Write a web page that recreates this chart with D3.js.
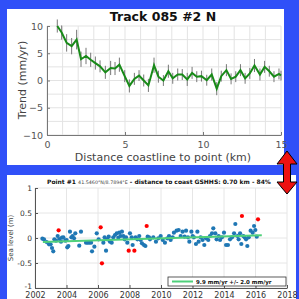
<!DOCTYPE html>
<html><head><meta charset="utf-8">
<script src="https://cdn.jsdelivr.net/npm/d3@7"></script>
<style>body{margin:0;padding:0;background:#fff}svg{display:block}text{font-family:"DejaVu Sans",sans-serif}</style>
</head><body>
<script>
// ---- Top chart data (trend vs distance) ----
const trendKm = [0.66,0.94,1.26,1.58,1.9,2.18,2.5,2.8,3.1,3.4,3.74,4.08,4.36,4.64,4.98,5.28,5.6,5.9,6.2,6.5,6.86,7.14,7.46,7.78,8.06,8.38,8.67,8.99,9.3,9.6,9.9,10.24,10.56,10.88,11.17,11.5,11.8,12.1,12.4,12.7,13.0,13.3,13.65,13.95,14.25,14.55,14.87,15.0];
const trendVal = [10.0,8.8,6.9,6.3,7.5,3.9,4.5,3.8,3.2,2.6,1.5,2.3,2.2,2.9,0.8,-1.0,0.3,0.9,0.0,-0.9,2.8,0.7,0.0,1.7,0.4,1.1,1.1,0.2,1.4,0.7,0.8,0.05,1.1,-1.5,0.8,1.9,0.3,0.7,1.9,0.4,1.3,2.75,1.1,2.5,1.7,0.7,1.2,0.9];
const trendErr = [1.2,1.3,1.6,1.5,1.8,1.4,1.5,1.3,1.2,1.1,1.2,1.3,1.2,1.3,1.1,1.2,1.1,1.0,1.1,1.2,1.4,1.1,1.0,1.2,1.0,1.1,1.0,1.2,1.1,1.0,1.0,1.0,1.1,1.2,1.0,1.1,1.0,1.0,1.1,1.0,1.0,1.2,1.1,1.1,1.0,1.0,1.0,0.9];
const topTitle = "Track 085 #2 N";
const topXTicks = [0,5,10,15];
const topYTicks = [10,5,0,-5,-10];
const topXLabel = "Distance coastline to point (km)";
const topYLabel = "Trend (mm/yr)";

// ---- Bottom chart data (sea level time series) ----
const slYears = [2002.47,2002.57,2002.74,2002.89,2002.99,2003.08,2003.16,2003.23,2003.33,2003.44,2003.54,2003.65,2003.71,2003.80,2003.93,2004.01,2004.05,2004.12,2004.22,2004.31,2004.39,2004.48,2004.56,2004.81,2004.92,2005.24,2005.34,2005.45,2005.56,2005.62,2005.77,2005.92,2006.04,2006.34,2006.42,2006.51,2006.59,2006.68,2006.76,2006.87,2006.97,2007.08,2007.19,2007.29,2007.35,2007.44,2007.52,2007.61,2007.69,2007.78,2007.86,2008.03,2008.14,2008.20,2008.39,2008.50,2008.62,2008.71,2008.79,2008.92,2009.01,2009.15,2009.24,2009.30,2009.51,2009.68,2009.83,2009.98,2010.11,2010.25,2010.40,2010.51,2010.61,2010.74,2010.82,2010.99,2011.12,2011.25,2011.37,2011.50,2011.59,2011.71,2011.80,2011.93,2012.01,2012.09,2012.22,2012.31,2012.39,2012.52,2012.64,2012.75,2012.86,2013.00,2013.11,2013.24,2013.32,2013.45,2013.53,2013.66,2013.75,2013.87,2014.00,2014.13,2014.25,2014.38,2014.51,2014.64,2014.72,2014.85,2014.93,2015.02,2015.10,2015.23,2015.31,2015.40,2015.48,2015.57,2015.69,2015.82,2015.91,2015.99,2016.08];
const slValues = [-0.013,-0.027,-0.08,-0.127,-0.127,-0.2,-0.267,-0.027,-0.053,0.04,-0.02,-0.073,0.007,0.013,-0.053,-0.04,-0.187,-0.16,0.127,0.013,0.04,-0.007,0.093,-0.153,0.127,-0.093,-0.093,-0.093,-0.093,-0.267,-0.173,0.093,-0.027,-0.093,0.013,-0.253,-0.027,0.027,-0.073,-0.093,0.013,0.06,0.093,0.007,0.107,0.04,0.127,0.04,-0.027,0.013,-0.093,0.093,0.013,-0.14,0.013,-0.027,0.04,-0.04,-0.107,-0.14,-0.16,0.027,0.013,-0.027,0.013,-0.073,-0.007,0.04,-0.04,-0.093,-0.007,0.04,-0.04,0.013,0.107,0.147,0.16,0.04,0.127,0.027,0.147,0.013,-0.073,0.127,0.04,0.013,-0.12,0.127,-0.073,0.013,-0.04,-0.14,-0.007,-0.04,0.04,0.093,0.193,0.093,-0.027,0.04,-0.04,0.013,0.107,-0.14,-0.14,-0.027,0.013,0.093,0.28,0.04,-0.027,0.093,-0.12,0.04,0.013,-0.027,-0.16,0.013,0.147,0.107,0.24,0.16,0.027];
const outYears = [2003.50,2006.17,2006.25,2007.95,2008.31,2009.09,2015.14,2016.16];
const outValues = [0.153,0.213,-0.507,-0.253,-0.253,0.24,0.44,0.373];
const fitYears = [2002.5,2016.4];
const fitValues = [-0.08,0.055];
const botXTicks = [2002,2004,2006,2008,2010,2012,2014,2016,2018];
const botYTicks = [1,0.5,0,-0.5,-1];
const botYTickLabels = ["1","0.5","0","-0.5","-1"];
const legendLabel = "9.9 mm/yr +/- 2.0 mm/yr";
const botYLabel = "Sea level (m)";

const W = 299, H = 299;
const blue = "#3050f8";
const svg = d3.select("body").append("svg").attr("width", W).attr("height", H);
svg.append("rect").attr("width", W).attr("height", H).attr("fill", blue);
svg.append("rect").attr("x", 7).attr("y", 9).attr("width", 277).attr("height", 156).attr("fill", "#fff");
svg.append("rect").attr("x", 7).attr("y", 175).attr("width", 289).attr("height", 124).attr("fill", "#fff");

// ===== Top chart =====
const tx = d3.scaleLinear().domain([0,15]).range([47,281]);
const ty = d3.scaleLinear().domain([-10,10]).range([135,26]);
const tg = svg.append("g");
tg.append("g").selectAll("line").data(d3.range(0,16,1)).join("line")
  .attr("x1", d=>tx(d)).attr("x2", d=>tx(d)).attr("y1", ty(-10)).attr("y2", ty(10))
  .attr("stroke", "#e3e3e3").attr("stroke-width", 1);
tg.append("g").selectAll("line").data(d3.range(-10,10.1,2.5)).join("line")
  .attr("x1", tx(0)).attr("x2", tx(15)).attr("y1", d=>ty(d)).attr("y2", d=>ty(d))
  .attr("stroke", "#e3e3e3").attr("stroke-width", 1);
const txAxis = tg.append("g").attr("transform", `translate(0,${ty(-10)})`)
  .call(d3.axisBottom(tx).tickValues(topXTicks).tickSizeInner(-3).tickSizeOuter(0).tickPadding(6));
const tyAxis = tg.append("g").attr("transform", `translate(${tx(0)},0)`)
  .call(d3.axisLeft(ty).tickValues(topYTicks).tickSizeInner(-3).tickSizeOuter(0).tickPadding(4));
[txAxis, tyAxis].forEach(a => {
  a.select(".domain").attr("stroke", "#777");
  a.selectAll(".tick line").attr("stroke", "#777");
  a.selectAll(".tick text").attr("fill", "#555").attr("font-size", 9.5).attr("font-family", "DejaVu Sans");
});
// error bars
tg.append("g").selectAll("line").data(trendKm).join("line")
  .attr("x1", (d)=>tx(d)).attr("x2", (d)=>tx(d))
  .attr("y1", (d,i)=>ty(trendVal[i]-trendErr[i])).attr("y2", (d,i)=>ty(trendVal[i]+trendErr[i]))
  .attr("stroke", "#777").attr("stroke-width", 1);
tg.append("path").datum(trendKm)
  .attr("d", d3.line().x(d=>tx(d)).y((d,i)=>ty(trendVal[i])))
  .attr("fill", "none").attr("stroke", "#188a18").attr("stroke-width", 2);
svg.append("text").attr("x", 163).attr("y", 21).attr("text-anchor", "middle")
  .attr("font-size", 12.5).attr("font-weight", "bold").attr("fill", "#111").text(topTitle);
svg.append("text").attr("x", 163).attr("y", 161).attr("text-anchor", "middle")
  .attr("font-size", 11).attr("fill", "#444").text(topXLabel);
svg.append("text").attr("transform", "translate(26,80) rotate(-90)").attr("text-anchor", "middle")
  .attr("font-size", 11).attr("fill", "#444").text(topYLabel);

// ===== Bottom chart =====
const bx = d3.scaleLinear().domain([2002,2018]).range([35,287]);
const by = d3.scaleLinear().domain([-1,1]).range([288,188]);
const bg = svg.append("g");
bg.append("g").selectAll("line").data(botXTicks).join("line")
  .attr("x1", d=>bx(d)).attr("x2", d=>bx(d)).attr("y1", by(-1)).attr("y2", by(1))
  .attr("stroke", "#e6e6e6");
bg.append("g").selectAll("line").data(botYTicks).join("line")
  .attr("x1", bx(2002)).attr("x2", bx(2018)).attr("y1", d=>by(d)).attr("y2", d=>by(d))
  .attr("stroke", "#e6e6e6");
const bxAxis = bg.append("g").attr("transform", `translate(0,${by(-1)})`)
  .call(d3.axisBottom(bx).tickValues(botXTicks).tickFormat(d3.format("d")).tickSizeInner(-3).tickSizeOuter(0).tickPadding(4));
const byAxis = bg.append("g").attr("transform", `translate(${bx(2002)},0)`)
  .call(d3.axisLeft(by).tickValues(botYTicks).tickFormat((d,i)=>botYTickLabels[i]).tickSizeInner(-3).tickSizeOuter(0).tickPadding(3));
[bxAxis, byAxis].forEach(a => {
  a.select(".domain").attr("stroke", "#555");
  a.selectAll(".tick line").attr("stroke", "#555");
  a.selectAll(".tick text").attr("fill", "#333").attr("font-family", "DejaVu Sans");
});
bxAxis.selectAll(".tick text").attr("font-size", 8);
byAxis.selectAll(".tick text").attr("font-size", 7.5);
byAxis.selectAll(".tick text").filter(d=>d===-1).attr("dy", "0.1em");
bg.append("g").selectAll("circle").data(slYears).join("circle")
  .attr("cx", d=>bx(d)).attr("cy", (d,i)=>by(slValues[i])).attr("r", 2.1).attr("fill", "#1f77b4");
bg.append("path").datum(fitYears)
  .attr("d", d3.line().x(d=>bx(d)).y((d,i)=>by(fitValues[i])))
  .attr("stroke", "#4fd07a").attr("stroke-width", 2).attr("fill", "none");
bg.append("g").selectAll("circle").data(outYears).join("circle")
  .attr("cx", d=>bx(d)).attr("cy", (d,i)=>by(outValues[i])).attr("r", 2.1).attr("fill", "#ff0000");
// title
const bt = svg.append("text").attr("x", 47).attr("y", 184).attr("font-size", 6).attr("fill", "#111");
bt.append("tspan").attr("font-weight", "bold").text("Point #1 ");
bt.append("tspan").attr("font-size", 4.8).attr("fill", "#444").text("41.5460°N/8.7894°E");
bt.append("tspan").attr("font-weight", "bold").text(" - distance to coast GSHHS: 0.70 km - 84%");
svg.append("text").attr("transform", "translate(13,238) rotate(-90)").attr("text-anchor", "middle")
  .attr("font-size", 7).attr("fill", "#444").text(botYLabel);
// legend
svg.append("rect").attr("x", 168).attr("y", 277).attr("width", 118).attr("height", 9)
  .attr("fill", "#fff").attr("stroke", "#333").attr("stroke-width", 0.8);
svg.append("line").attr("x1", 172).attr("x2", 193).attr("y1", 281.5).attr("y2", 281.5)
  .attr("stroke", "#4fd07a").attr("stroke-width", 2);
svg.append("text").attr("x", 196).attr("y", 283.6).attr("font-size", 5.5).attr("font-weight", "bold")
  .attr("fill", "#111").text(legendLabel);

// arrow
const arrowPts = [[287,151],[297,164],[290.5,164],[290.5,182],[297,182],[287,194],[277,182],[283.5,182],[283.5,164],[277,164]];
svg.append("polygon").attr("points", arrowPts.map(p=>p.join(",")).join(" "))
  .attr("fill", "#ee1111").attr("stroke", "#000").attr("stroke-width", 1);
</script>
</body></html>
